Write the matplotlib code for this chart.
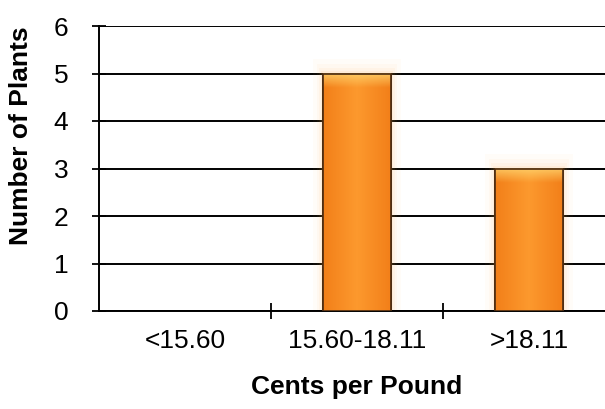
import matplotlib
matplotlib.use('Agg')
import matplotlib.pyplot as plt
import numpy as np

categories = ['<15.60', '15.60-18.11', '>18.11']
plants = [0, 5, 3]
y_ticks = [0, 1, 2, 3, 4, 5, 6]

plt.rcParams['font.family'] = ['Liberation Sans', 'DejaVu Sans']

W, H = 605, 409
fig = plt.figure(figsize=(W / 100, H / 100), dpi=100)
ax = fig.add_axes([99 / W, (H - 311) / H, 516 / W, 285 / H])

x = np.arange(len(categories))
bar_w = 0.39

# soft orange glow around the bars
for grow, alpha in [(0.12, 0.035), (0.08, 0.045), (0.05, 0.06), (0.025, 0.08)]:
    for xi, v in zip(x, plants):
        if v > 0:
            ax.bar(xi, v + grow * 4, width=bar_w + grow, bottom=-grow * 1.5,
                   color='#ffb347', alpha=alpha, linewidth=0, zorder=1)

bars = ax.bar(x, plants, width=bar_w, color='#f48a1f', edgecolor='#4a2a10',
              linewidth=1.2, zorder=3)

# horizontal gradient inside each bar: lighter middle, darker edges
grad = np.linspace(0, 1, 64)
shade = 1 - 0.35 * np.abs(grad - 0.5) * 2
cols = np.zeros((2, 64, 3))
base = np.array([0.95, 0.50, 0.10])
light = np.array([0.99, 0.60, 0.18])
for i, s in enumerate(shade):
    cols[:, i, :] = base + (light - base) * (s - 0.65) / 0.35
for b in bars:
    h = b.get_height()
    if h <= 0:
        b.set_visible(False)
        continue
    x0 = b.get_x()
    im = ax.imshow(cols, extent=[x0, x0 + b.get_width(), 0, h], aspect='auto',
                   interpolation='bilinear', zorder=3.5)
    im.set_clip_path(b)
    # yellowish highlight at top
    top = np.zeros((32, 2, 4))
    top[..., 0] = 1.0
    top[..., 1] = 0.85
    top[..., 2] = 0.45
    top[..., 3] = np.linspace(0.0, 0.8, 32)[:, None]
    ax.imshow(top, extent=[x0, x0 + b.get_width(), h - 0.3, h], aspect='auto',
              interpolation='bilinear', zorder=3.6, origin='lower')
    ax.bar(b.get_x() + b.get_width() / 2, h, width=b.get_width(), fill=False,
           edgecolor='#4a2a10', linewidth=1.2, zorder=4)

ax.set_xlim(-0.5, 2.5)
ax.set_ylim(0, 6)
ax.set_yticks(y_ticks)
ax.yaxis.grid(True, color='black', linewidth=1.4, zorder=0)
ax.set_axisbelow(True)

ax.set_xticks([0.5, 1.5])
ax.set_xticklabels([])
ax.set_xticks(x, minor=True)
ax.set_xticklabels(categories, minor=True)
ax.tick_params(axis='x', which='major', direction='inout', length=12, width=1.3)
ax.tick_params(axis='x', which='minor', length=0, pad=13, labelsize=19)
ax.tick_params(axis='y', direction='inout', length=10, width=1.3, pad=17,
               labelsize=19)

for side in ['top', 'right']:
    ax.spines[side].set_visible(False)
ax.spines['left'].set_linewidth(1.4)
ax.spines['bottom'].set_linewidth(1.4)

ax.set_ylabel('Number of Plants', fontsize=19, fontweight='bold')
ax.yaxis.set_label_coords(-0.128, 0.614)
ax.set_xlabel('Cents per Pound', fontsize=19, fontweight='bold', labelpad=16)

fig.savefig('out.png', dpi=100)
